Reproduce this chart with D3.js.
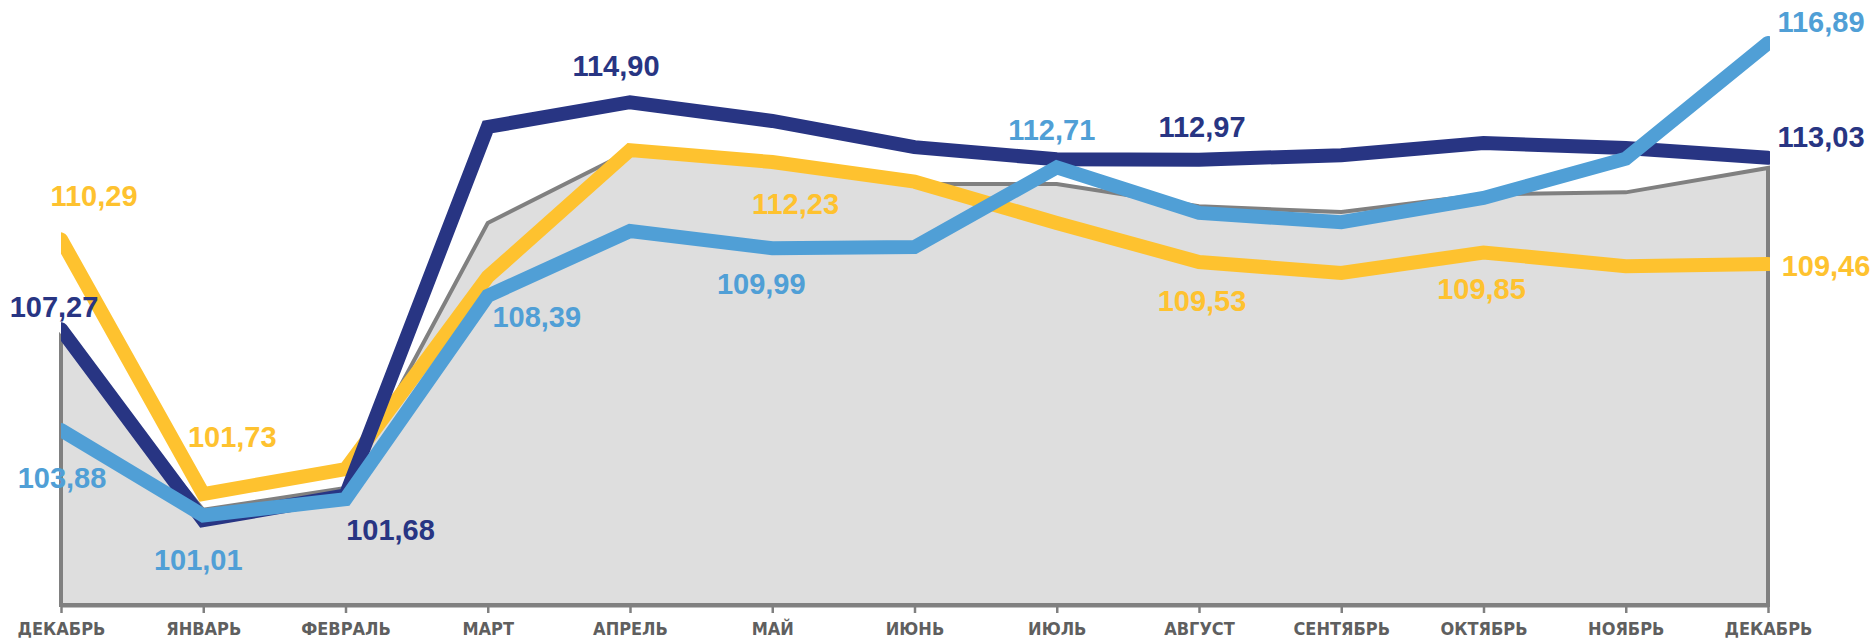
<!DOCTYPE html>
<html>
<head>
<meta charset="utf-8">
<script src="https://cdn.jsdelivr.net/npm/d3@7"></script>
<style>
  body { margin: 0; background: #fff; }
  svg { display: block; }
</style>
</head>
<body>
<div id="chart"></div>
<script>
// data
var months = ["ДЕКАБРЬ", "ЯНВАРЬ", "ФЕВРАЛЬ", "МАРТ", "АПРЕЛЬ", "МАЙ", "ИЮНЬ",
              "ИЮЛЬ", "АВГУСТ", "СЕНТЯБРЬ", "ОКТЯБРЬ", "НОЯБРЬ", "ДЕКАБРЬ"];
var grayVals   = [107.00, 101.20, 101.93, 110.84, 113.25, 112.80, 112.15, 112.15, 111.40, 111.21, 111.80, 111.87, 112.69];
var navyVals   = [107.27, 100.85, 101.68, 114.07, 114.90, 114.27, 113.39, 112.98, 112.97, 113.12, 113.53, 113.36, 113.03];
var yellowVals = [110.29, 101.73, 102.57, 109.03, 113.29, 112.89, 112.23, 110.84, 109.53, 109.16, 109.85, 109.39, 109.46];
var blueVals   = [103.88, 101.01, 101.56, 108.39, 110.57, 109.99, 110.03, 112.71, 111.18, 110.87, 111.68, 113.00, 116.89];

// which points carry a value label
var navyLabelled   = [0, 2, 4, 8, 12];
var yellowLabelled = [0, 1, 6, 8, 10, 12];
var blueLabelled   = [0, 1, 3, 5, 7, 12];

var svgWidth = 1873;
var svgHeight = 638;

var svg = d3.select("#chart")
    .append("svg")
    .attr("width", svgWidth)
    .attr("height", svgHeight);

var xScale = d3.scalePoint()
    .domain(d3.range(months.length))
    .range([61, 1768]);

var yScale = d3.scaleLinear()
    .domain([98, 118])
    .range([605, 10]);

var fmt = d3.format(".2f");
function ru(v) { return fmt(v).replace(".", ","); }

// series styles and label offsets (dx, dy from the point)
var series = [
    { vals: yellowVals, color: "#fec22f", labelled: yellowLabelled,
      off: { 0: [33, -43], 1: [29, -57], 6: [-119, 22], 8: [3, 39], 10: [-2, 37], 12: [58, 2] } },
    { vals: navyVals, color: "#283583", labelled: navyLabelled,
      off: { 0: [-7, -22], 2: [45, 34], 4: [-14, -36], 8: [3, -33], 12: [53, -21] } },
    { vals: blueVals, color: "#509fd6", labelled: blueLabelled,
      off: { 0: [1, 48], 1: [-5, 45], 3: [49, 21], 5: [-11, 36], 7: [-5, -37], 12: [53, -21] } }
];

// gray area
var area = d3.area()
    .x(function (d, i) { return xScale(i); })
    .y0(yScale(98))
    .y1(function (d) { return yScale(d); });

svg.append("path")
    .datum(grayVals)
    .attr("d", area)
    .attr("fill", "#dedede")
    .attr("stroke", "#808080")
    .attr("stroke-width", 4)
    .attr("stroke-linejoin", "miter");

// x axis
var xAxis = d3.axisBottom(xScale)
    .tickSizeInner(8)
    .tickSizeOuter(0)
    .tickPadding(9)
    .tickFormat(function (i) { return months[i]; });

var axisG = svg.append("g")
    .attr("transform", "translate(0," + yScale(98) + ")")
    .call(xAxis);

axisG.select(".domain")
    .attr("stroke", "#808080")
    .attr("stroke-width", 4);

axisG.selectAll(".tick line")
    .attr("stroke", "#808080")
    .attr("stroke-width", 2.5);

axisG.selectAll(".tick text")
    .attr("fill", "#5f5f5f")
    .style("font-family", "'Liberation Sans Narrow', 'DejaVu Sans Condensed', Arial, sans-serif")
    .style("font-weight", "bold")
    .style("font-size", "18px");

// clip lines to plot width
svg.append("clipPath")
    .attr("id", "plotClip")
    .append("rect")
    .attr("x", 61)
    .attr("y", 0)
    .attr("width", 1770 - 61)
    .attr("height", svgHeight);

var line = d3.line()
    .x(function (d, i) { return xScale(i); })
    .y(function (d) { return yScale(d); });

var linesG = svg.append("g").attr("clip-path", "url(#plotClip)");

series.forEach(function (s) {
    linesG.append("path")
        .datum(s.vals)
        .attr("d", line)
        .attr("fill", "none")
        .attr("stroke", s.color)
        .attr("stroke-width", 14)
        .attr("stroke-linecap", "round")
        .attr("stroke-linejoin", "miter");
});

// value labels
series.forEach(function (s) {
    svg.selectAll(null)
        .data(s.labelled)
        .enter()
        .append("text")
        .attr("x", function (i) { return xScale(i) + s.off[i][0]; })
        .attr("y", function (i) { return yScale(s.vals[i]) + s.off[i][1]; })
        .attr("text-anchor", "middle")
        .attr("dominant-baseline", "central")
        .attr("fill", s.color)
        .style("font-family", "'Liberation Sans', Arial, sans-serif")
        .style("font-weight", "bold")
        .style("font-size", "29px")
        .text(function (i) { return ru(s.vals[i]); });
});
</script>
</body>
</html>
